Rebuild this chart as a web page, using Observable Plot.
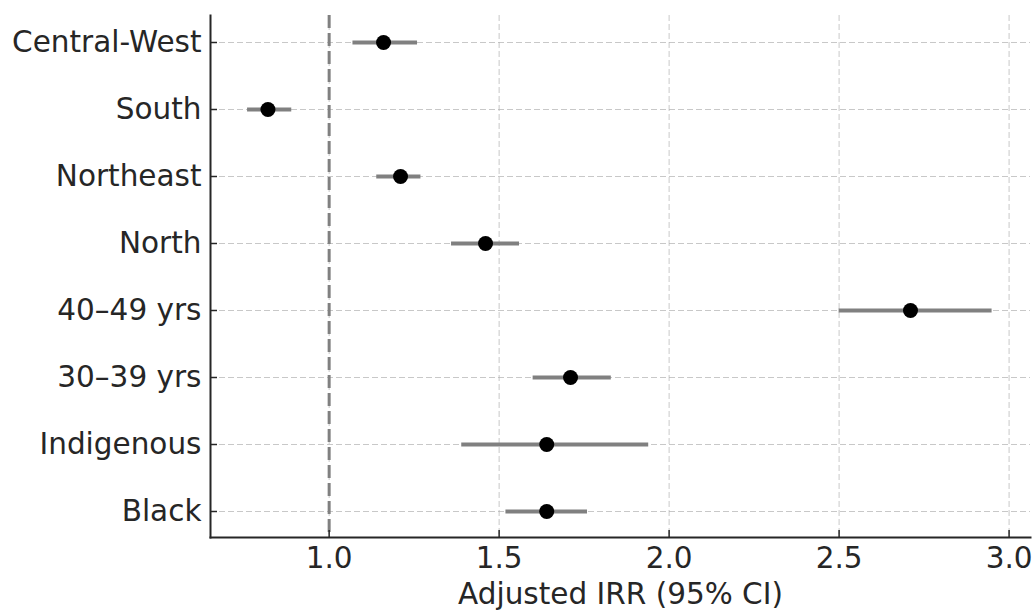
<!DOCTYPE html>
<html>
<head>
<meta charset="utf-8">
<script src="https://cdn.jsdelivr.net/npm/d3@7"></script>
<script src="https://cdn.jsdelivr.net/npm/@observablehq/plot@0.6"></script>
<style>
  html, body { margin: 0; padding: 0; background: #fff; }
  #chart svg { display: block; }
</style>
</head>
<body>
<div id="chart"></div>
<script>
const categories = ["Central-West", "South", "Northeast", "North", "40–49 yrs", "30–39 yrs", "Indigenous", "Black"];
const irr   = [1.16, 0.82, 1.21, 1.46, 2.71, 1.71, 1.64, 1.64];
const lower = [1.07, 0.76, 1.14, 1.36, 2.50, 1.60, 1.39, 1.52];
const upper = [1.26, 0.89, 1.27, 1.56, 2.95, 1.83, 1.94, 1.76];
const xTicks = [1.0, 1.5, 2.0, 2.5, 3.0];
const xDomain = [0.651, 3.063];
const refValue = [1.0];

const rows = categories.map((c, i) => ({cat: c, irr: irr[i], lo: lower[i], hi: upper[i]}));

const W = 1033, H = 612;
const mT = 15, mB = 75, mL = 210, mR = 3;
const frameH = H - mT - mB, frameW = W - mL - mR;
const textColor = "#262626";

const chart = Plot.plot({
  width: W,
  height: H,
  marginTop: mT,
  marginBottom: mB,
  marginLeft: mL,
  marginRight: mR,
  style: {fontFamily: "DejaVu Sans", fontSize: "29.5px", color: textColor, background: "#fff"},
  x: {domain: xDomain, label: null},
  y: {type: "point", domain: categories, padding: 0.35, label: null},
  marks: [
    Plot.gridX(xTicks, {stroke: "#b0b0b0", strokeOpacity: 0.7, strokeWidth: 1, strokeDasharray: "6,3"}),
    Plot.gridY(categories, {stroke: "#b0b0b0", strokeOpacity: 0.7, strokeWidth: 1, strokeDasharray: "6,3"}),
    Plot.ruleX(refValue, {stroke: "#808080", strokeWidth: 3, strokeDasharray: "13,5"}),
    Plot.ruleY(rows, {y: "cat", x1: "lo", x2: "hi", stroke: "#808080", strokeWidth: 4}),
    Plot.dot(rows, {y: "cat", x: "irr", r: 7.5, fill: "#000", stroke: "none"}),
    Plot.tickX(xTicks, {x: d => d, stroke: textColor, strokeWidth: 1.5, insetTop: frameH - 7}),
    Plot.tickY(categories, {y: d => d, stroke: textColor, strokeWidth: 1.5, insetRight: frameW - 7}),
    Plot.axisX(xTicks, {tickSize: 0, tickPadding: 10, tickFormat: d => d.toFixed(1), fill: textColor,
      label: "Adjusted IRR (95% CI)", labelAnchor: "center", labelArrow: "none", labelOffset: 66}),
    Plot.axisY(categories, {tickSize: 0, tickPadding: 9, fill: textColor, label: null}),
    Plot.frame({anchor: "left", stroke: textColor, strokeWidth: 2}),
    Plot.frame({anchor: "bottom", stroke: textColor, strokeWidth: 2})
  ]
});
document.getElementById("chart").appendChild(chart);
</script>
</body>
</html>
